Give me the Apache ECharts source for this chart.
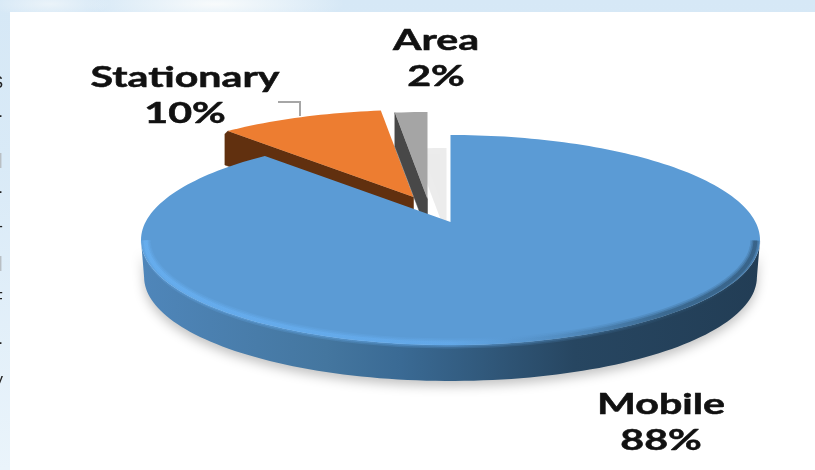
<!DOCTYPE html>
<html>
<head>
<meta charset="utf-8">
<title>Emission sources</title>
<style>
  html, body { margin: 0; padding: 0; width: 815px; height: 470px; overflow: hidden; }
  body {
    background:
      radial-gradient(ellipse 130px 22px at 215px 4px, rgba(250,252,252,.95), rgba(250,252,252,0)),
      radial-gradient(ellipse 60px 14px at 50px 4px, rgba(240,246,250,.8), rgba(240,246,250,0)),
      linear-gradient(180deg, #d6e8f6 0%, #d9eaf7 35%, #eaf4fb 100%);
  }
  #chart { width: 815px; height: 470px; }
</style>
</head>
<body>
<div id="chart"></div>
<script src="https://cdn.jsdelivr.net/npm/echarts@6/dist/echarts.min.js"></script>
<script>
// Source shares, clockwise from twelve o'clock
const categories = ['Mobile', 'Stationary', 'Area'];
const shares = [88, 10, 2];

// Line endings of the neighbouring text column, cut off at the left page edge
const marginGlyphs = ['S', '.', '|', '.', '-', '|', 'F', '.', 'y'];
const marginGlyphRows = [83, 112, 160, 188, 226, 263, 299, 339, 380];

// Disc geometry of the tilted pie
const DISC = { cx: 450.5, cy: 240, rx: 309.5, ry: 105, depth: 37, shrink: 0.99, tilt: 0.171 };

// Per-slice styling and placement
const SLICES = {
  Mobile: { face: '#5b9bd5', cut: '#2f5878', shift: [0, 0], order: 3, labelAt: [661, 423] },
  Stationary: { face: '#ed7d31', cut: '#61300f', shift: [-37, -25], order: 1, labelAt: [185, 96],
    flare: -3, leader: [[278, 102], [300, 102], [300, 116]] },
  Area: { face: '#a5a5a5', cut: '#484848', shift: [-23, -23], order: 2, labelAt: [436, 59],
    cast: [19, 36] }
};

const TOTAL = shares.reduce((a, b) => a + b, 0);

// Projects a rim angle (degrees clockwise from the top) onto the tilted disc.
function rimPoint(deg, shift) {
  const a = deg * Math.PI / 180;
  const x = Math.sin(a), y = Math.cos(a), s = DISC.tilt;
  const d = 1 + s * y;
  return [
    DISC.cx + DISC.rx * x * Math.sqrt(1 - s * s) / d + shift[0],
    DISC.cy - DISC.ry * (y + s) / d + shift[1]
  ];
}

function arcPoints(from, to, shift) {
  const pts = [];
  const n = Math.max(4, Math.ceil((to - from) / 1.5));
  for (let k = 0; k <= n; k++) pts.push(rimPoint(from + (to - from) * k / n, shift));
  return pts;
}

function lowered(p) {
  return [
    DISC.cx + (p[0] - DISC.cx) * DISC.shrink,
    DISC.cy + DISC.depth + (p[1] - DISC.cy) * DISC.shrink
  ];
}

function sideGradient(stops) {
  return new echarts.graphic.LinearGradient(
    0, 0, 1, 0, stops.map(([offset, color]) => ({ offset, color }))
  );
}

function renderSlice(params, api) {
  const i = params.dataIndex;
  const name = categories[i];
  const value = api.value(0);
  const before = shares.slice(0, i).reduce((a, b) => a + b, 0);
  const start = before / TOTAL * 360;
  const end = (before + value) / TOTAL * 360;
  const cfg = SLICES[name];
  const apex = [DISC.cx + cfg.shift[0], DISC.cy - DISC.ry * DISC.tilt + cfg.shift[1]];
  const arc = arcPoints(start, end, cfg.shift);
  const children = [];
  const z = cfg.order * 10;

  if (name === 'Mobile') {
    // Outer wall and its bevel along the front of the rim
    const front = arc.filter(p => p[1] >= DISC.cy);
    children.push({
      type: 'polygon', z2: z,
      shape: { points: front.concat(front.map(lowered).reverse()) },
      style: {
        fill: sideGradient([[0, '#4f86ba'], [0.3, '#44769f'], [0.42, '#3a6a94'],
          [0.7, '#274661'], [1, '#223d55']]),
        shadowColor: 'rgba(0,0,0,0.24)', shadowBlur: 11, shadowOffsetY: 5
      }
    });
    children.push({
      type: 'polygon', z2: z + 1,
      shape: { points: [apex].concat(arc) },
      style: { fill: cfg.face }
    });
    const bevel = sideGradient([[0, '#6ab3f6'], [0.5, '#66adef'], [0.68, '#4f88bb'],
      [0.85, '#2f5676'], [1, '#2b4e6c']]);
    [[10, 0.2], [7, 0.3], [4, 0.5]].forEach(([w, alpha]) => {
      children.push({
        type: 'polyline', z2: z + 2,
        shape: { points: front.map(p => [DISC.cx + (p[0] - DISC.cx) * 0.985, DISC.cy + (p[1] - DISC.cy) * 0.985]) },
        style: { stroke: bevel, lineWidth: w, opacity: alpha, fill: null }
      });
    });
  } else {
    const corner = arc[0];
    const flare = cfg.flare || 0;
    if (cfg.cast) {
      // Soft shadow the raised slice drops on the background
      children.push({
        type: 'polygon', z2: z - 1,
        shape: { points: [apex].concat(arc).map(p => [p[0] + cfg.cast[0], p[1] + cfg.cast[1]]) },
        style: { fill: 'rgba(0,0,0,0.07)', shadowColor: 'rgba(0,0,0,0.1)', shadowBlur: 5 }
      });
    }
    children.push({
      type: 'polygon', z2: z,
      shape: {
        points: [
          corner,
          [corner[0] + flare, corner[1] + 3],
          [corner[0] + flare, corner[1] + DISC.depth - 3],
          [apex[0], apex[1] + DISC.depth - 3],
          apex
        ]
      },
      style: { fill: cfg.cut, stroke: cfg.cut, lineWidth: 0.5 }
    });
    children.push({
      type: 'polygon', z2: z + 1,
      shape: { points: [apex].concat(arc) },
      style: { fill: cfg.face }
    });
  }

  if (cfg.leader) {
    children.push({
      type: 'polyline', z2: 5,
      shape: { points: cfg.leader },
      style: { stroke: '#a6a6a6', lineWidth: 2, fill: null }
    });
  }

  children.push({
    type: 'text', z2: 50,
    x: cfg.labelAt[0], y: cfg.labelAt[1], scaleX: 1.47,
    style: {
      text: name + '\n' + value + '%',
      x: 0, y: 0,
      align: 'center', verticalAlign: 'middle',
      font: 'bold 28px Lato',
      lineHeight: 36,
      fill: '#111111', stroke: '#111111', lineWidth: 0.5
    }
  });

  return { type: 'group', children };
}

const chart = echarts.init(document.getElementById('chart'), null, { renderer: 'canvas' });
chart.setOption({
  animation: false,
  backgroundColor: 'transparent',
  graphic: [{
    type: 'rect', z: -10, silent: true,
    shape: { x: 10, y: 12, width: 805, height: 458 },
    style: { fill: '#ffffff' }
  }].concat(marginGlyphs.map((text, k) => ({
    type: 'text', z: -9, silent: true,
    style: {
      text, x: 3, y: marginGlyphRows[k],
      align: 'right', verticalAlign: 'middle',
      font: '17px Liberation Sans',
      fill: text === '|' ? '#b8bec4' : '#222222'
    }
  }))),
  series: [{
    type: 'custom',
    coordinateSystem: 'none',
    renderItem: renderSlice,
    data: categories.map((name, i) => ({ name, value: shares[i] }))
  }]
});
</script>
</body>
</html>
